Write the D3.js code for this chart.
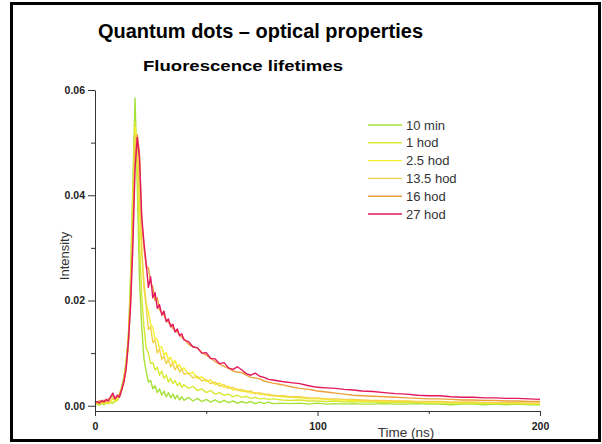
<!DOCTYPE html>
<html>
<head>
<meta charset="utf-8">
<script src="https://cdn.jsdelivr.net/npm/d3@7"></script>
<style>
  html, body { margin: 0; padding: 0; background: #fff; }
  svg { display: block; font-family: "Liberation Sans", Arial, Helvetica, sans-serif; }
</style>
</head>
<body>
<svg id="chart" width="602" height="444"></svg>
<script>
// ---- data ----
const times = [0,1,2,3,4,5,6,7,8,9,10,11,12,13,14,15,16,17,18,19,20,21,22,23,24,25,26,27,28,29,30,31,32,33,34,35,36,37,38,39,40,
  42,44,46,48,50,52,54,56,58,60,62,64,66,68,70,72,74,76,78,80,
  84,88,92,96,100,104,108,112,116,120,
  125,130,135,140,145,150,155,160,165,170,175,180,185,190,195,200];

const seriesNames = ["10 min", "1 hod", "2.5 hod", "13.5 hod", "16 hod", "27 hod"];
const seriesColors = ["#a6e03a", "#d6ea34", "#f4f030", "#f2d24a", "#eba03c", "#e2185e"];

const min10 = [0.0002,0.0003,0.0001,0.0004,0.0002,0.0005,0.0004,0.0006,0.0005,0.0008,0.0012,0.0022,0.0036,0.0055,0.0085,0.0130,0.0250,0.0420,0.0585,0.0420,
  0.0240,0.0150,0.0090,0.0065,0.0045,0.0048,0.0032,0.0038,0.0025,0.0032,0.0020,0.0028,0.0017,0.0025,0.0015,0.0022,0.0013,0.0020,0.0011,0.0017,0.0010,
  0.0016,0.0009,0.0014,0.0008,0.0012,0.0007,0.0011,0.0006,0.0010,0.0006,0.0009,0.0005,0.0008,0.0005,0.0008,0.0004,0.0007,0.0004,0.0007,0.0004,
  0.0005,0.0004,0.0005,0.0003,0.0005,0.0003,0.0004,0.0003,0.0004,0.0003,
  0.0003,0.0004,0.0003,0.0003,0.0004,0.0003,0.0003,0.0002,0.0003,0.0003,0.0002,0.0003,0.0002,0.0003,0.0002,0.0002];

const hod1 = [0.0002,0.0004,0.0002,0.0005,0.0003,0.0006,0.0004,0.0007,0.0006,0.0008,0.0010,0.0018,0.0030,0.0050,0.0080,0.0125,0.0230,0.0400,0.0540,0.0450,
  0.0310,0.0210,0.0150,0.0110,0.0100,0.0080,0.0082,0.0068,0.0073,0.0058,0.0066,0.0052,0.0058,0.0045,0.0052,0.0042,0.0048,0.0038,0.0044,0.0035,0.0040,
  0.0033,0.0037,0.0029,0.0032,0.0025,0.0029,0.0022,0.0025,0.0020,0.0022,0.0017,0.0020,0.0016,0.0018,0.0014,0.0016,0.0013,0.0014,0.0012,0.0013,
  0.0011,0.0010,0.0011,0.0009,0.0009,0.0008,0.0009,0.0007,0.0008,0.0007,
  0.0007,0.0006,0.0006,0.0006,0.0006,0.0005,0.0005,0.0005,0.0005,0.0004,0.0004,0.0004,0.0004,0.0004,0.0003,0.0003];

const hod25 = [0.0003,0.0005,0.0004,0.0006,0.0004,0.0007,0.0005,0.0009,0.0012,0.0010,0.0014,0.0020,0.0030,0.0048,0.0075,0.0120,0.0210,0.0380,0.0530,0.0490,
  0.0380,0.0290,0.0235,0.0195,0.0178,0.0155,0.0148,0.0128,0.0126,0.0110,0.0112,0.0097,0.0101,0.0088,0.0092,0.0080,0.0086,0.0074,0.0078,0.0068,0.0072,
  0.0060,0.0064,0.0052,0.0055,0.0046,0.0049,0.0040,0.0043,0.0035,0.0037,0.0030,0.0032,0.0027,0.0029,0.0024,0.0025,0.0021,0.0023,0.0019,0.0020,
  0.0017,0.0016,0.0015,0.0013,0.0013,0.0012,0.0011,0.0011,0.0010,0.0009,
  0.0009,0.0008,0.0008,0.0008,0.0007,0.0007,0.0007,0.0006,0.0006,0.0006,0.0005,0.0005,0.0005,0.0005,0.0004,0.0004];

const hod135 = [0.0004,0.0006,0.0003,0.0007,0.0005,0.0008,0.0006,0.0010,0.0015,0.0012,0.0016,0.0022,0.0032,0.0045,0.0070,0.0115,0.0200,0.0360,0.0515,0.0500,
  0.0400,0.0300,0.0225,0.0190,0.0145,0.0150,0.0120,0.0125,0.0100,0.0108,0.0088,0.0094,0.0080,0.0088,0.0074,0.0081,0.0068,0.0076,0.0064,0.0070,0.0060,
  0.0062,0.0053,0.0056,0.0047,0.0050,0.0042,0.0045,0.0037,0.0040,0.0033,0.0035,0.0029,0.0031,0.0026,0.0028,0.0023,0.0025,0.0021,0.0022,0.0019,
  0.0019,0.0017,0.0017,0.0015,0.0015,0.0013,0.0013,0.0012,0.0012,0.0011,
  0.0010,0.0010,0.0009,0.0009,0.0008,0.0008,0.0008,0.0007,0.0007,0.0007,0.0006,0.0006,0.0006,0.0006,0.0005,0.0005];

const hod16 = [0.0008,0.0006,0.0010,0.0007,0.0011,0.0008,0.0013,0.0015,0.0020,0.0014,0.0018,0.0022,0.0032,0.0050,0.0080,0.0130,0.0210,0.0330,0.0470,0.0515,
  0.0480,0.0350,0.0300,0.0265,0.0262,0.0235,0.0225,0.0200,0.0205,0.0182,0.0178,0.0172,0.0163,0.0158,0.0155,0.0147,0.0143,0.0140,0.0135,0.0130,0.0127,
  0.0117,0.0112,0.0110,0.0101,0.0096,0.0090,0.0084,0.0079,0.0075,0.0071,0.0066,0.0064,0.0063,0.0058,0.0054,0.0053,0.0051,0.0047,0.0045,0.0043,
  0.0040,0.0036,0.0033,0.0031,0.0028,0.0026,0.0024,0.0022,0.0020,0.0019,
  0.0018,0.0017,0.0016,0.0015,0.0014,0.0013,0.0013,0.0012,0.0011,0.0011,0.0010,0.0010,0.0009,0.0009,0.0008,0.0008];

const hod27 = [0.0006,0.0008,0.0005,0.0010,0.0007,0.0012,0.0009,0.0017,0.0024,0.0013,0.0020,0.0016,0.0030,0.0045,0.0070,0.0120,0.0190,0.0300,0.0450,0.0510,
  0.0470,0.0360,0.0310,0.0270,0.0225,0.0245,0.0205,0.0215,0.0185,0.0192,0.0172,0.0180,0.0160,0.0165,0.0150,0.0155,0.0140,0.0146,0.0133,0.0137,0.0125,
  0.0122,0.0112,0.0110,0.0100,0.0101,0.0090,0.0089,0.0080,0.0082,0.0072,0.0069,0.0074,0.0068,0.0061,0.0058,0.0062,0.0056,0.0054,0.0050,0.0049,
  0.0046,0.0044,0.0042,0.0038,0.0035,0.0034,0.0033,0.0031,0.0030,0.0028,
  0.0027,0.0025,0.0023,0.0022,0.0020,0.0019,0.0019,0.0017,0.0016,0.0016,0.0015,0.0015,0.0014,0.0014,0.0013,0.0012];

const seriesValues = [min10, hod1, hod25, hod135, hod16, hod27];

const xMajorTicks = [0, 100, 200];
const xMinorTicks = [50, 150];
const yMajorTicks = [0.00, 0.02, 0.04, 0.06];
const yMinorTicks = [0.01, 0.03, 0.05];

const titleText = "Quantum dots – optical properties";
const subtitleText = "Fluorescence lifetimes";
const xLabel = "Time (ns)";
const yLabel = "Intensity";

// ---- drawing ----
const svg = d3.select("#chart");
svg.append("rect").attr("width", 602).attr("height", 444).attr("fill", "#fff");

const x = d3.scaleLinear().domain([0, 200]).range([95, 540]);
const y = d3.scaleLinear().domain([-0.001, 0.06]).range([411, 90]);

// frame
svg.append("rect")
  .attr("x", 11.5).attr("y", 3.5).attr("width", 588).attr("height", 437)
  .attr("fill", "none").attr("stroke", "#000").attr("stroke-width", 3);

// titles
svg.append("text").text(titleText)
  .attr("x", 98).attr("y", 38)
  .attr("font-size", 19.5).attr("font-weight", "bold").attr("fill", "#000")
  .attr("textLength", 325).attr("lengthAdjust", "spacingAndGlyphs");
svg.append("text").text(subtitleText)
  .attr("x", 143).attr("y", 71)
  .attr("font-size", 15.5).attr("font-weight", "bold").attr("fill", "#000")
  .attr("textLength", 200).attr("lengthAdjust", "spacingAndGlyphs");

// lines
const line = d3.line()
  .x((d, i) => x(times[i]))
  .y(d => y(d));

const plot = svg.append("g");
seriesValues.forEach((vals, k) => {
  plot.append("path")
    .datum(vals)
    .attr("d", line)
    .attr("fill", "none")
    .attr("stroke", seriesColors[k])
    .attr("stroke-width", 1.4)
    .attr("stroke-linejoin", "round");
});

// axes
const axisColor = "#333";
const xAxis = svg.append("g").attr("transform", "translate(0,411)")
  .call(d3.axisBottom(x).tickValues(xMajorTicks).tickFormat(d3.format("d")).tickSize(5).tickSizeOuter(0));
const xMinor = svg.append("g").attr("transform", "translate(0,411)")
  .call(d3.axisBottom(x).tickValues(xMinorTicks).tickFormat("").tickSize(3).tickSizeOuter(0));
const yAxis = svg.append("g").attr("transform", "translate(95,0)")
  .call(d3.axisLeft(y).tickValues(yMajorTicks).tickFormat(d3.format(".2f")).tickSize(7).tickSizeOuter(0));
const yMinor = svg.append("g").attr("transform", "translate(95,0)")
  .call(d3.axisLeft(y).tickValues(yMinorTicks).tickFormat("").tickSize(4).tickSizeOuter(0));

[xAxis, xMinor, yAxis, yMinor].forEach(g => {
  g.select(".domain").attr("stroke", axisColor).attr("stroke-width", 1);
  g.selectAll(".tick line").attr("stroke", axisColor).attr("stroke-width", 1);
  g.selectAll("text").attr("fill", "#222").attr("font-size", 10.5).attr("font-weight", "bold")
    .attr("font-family", "'Liberation Sans', Arial, sans-serif");
});
yMinor.select(".domain").remove();
xMinor.select(".domain").remove();
xAxis.selectAll("text").attr("dy", "0").attr("y", 19);
yAxis.selectAll("text").attr("x", -10);

// axis labels
svg.append("text").text(xLabel)
  .attr("x", 406).attr("y", 437).attr("text-anchor", "middle")
  .attr("font-size", 13.5).attr("fill", "#333");
svg.append("text").text(yLabel)
  .attr("transform", "translate(69,256) rotate(-90)")
  .attr("text-anchor", "middle").attr("font-size", 13).attr("fill", "#333");

// legend
const legend = svg.append("g");
seriesNames.forEach((name, k) => {
  const ly = 125 + k * 17.8;
  legend.append("line")
    .attr("x1", 368).attr("x2", 402).attr("y1", ly).attr("y2", ly)
    .attr("stroke", seriesColors[k]).attr("stroke-width", 1.4);
  legend.append("text").text(name)
    .attr("x", 406).attr("y", ly + 4.5)
    .attr("font-size", 13).attr("fill", "#333");
});
</script>
</body>
</html>
